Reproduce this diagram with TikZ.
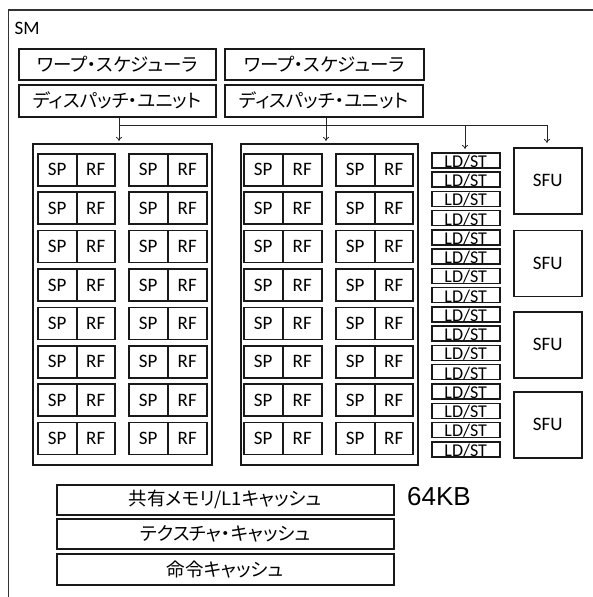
\documentclass[tikz,border=0pt]{standalone}
\usepackage{fontspec}
\setmainfont{Carlito}
\newfontfamily\jpfont[RawFeature=+palt]{Noto Sans CJK JP}
\newfontfamily\arialfont{Liberation Sans}
\usetikzlibrary{arrows.meta}
\begin{document}
\begin{tikzpicture}[x=1pt,y=-1pt,
  box/.style={draw=black!90, line width=1.5pt, inner sep=0pt, anchor=north west},
  jp/.style={font=\jpfont\fontsize{18.5}{20}\selectfont},
  cal/.style={font=\fontsize{19}{21}\selectfont},
  arr/.style={draw=black!85, line width=0.8pt, -{To[length=4pt,width=6pt]}, shorten >=2pt}]
\useasboundingbox (0,0) rectangle (593,597);
% outer frame (cropped)
\draw[draw=black!80, line width=1.7pt] (8.5,600) -- (8.5,10) -- (600,10);
\node[cal, anchor=base west, inner sep=0pt] (sm) at (14.5,34.5) {SM};
% warp schedulers and dispatch units
\node[box, jp, minimum width=197pt, minimum height=31pt] (w1) at (18,48) {ワープ・スケジューラ};
\node[box, jp, minimum width=199pt, minimum height=31pt] (w2) at (224,48) {ワープ・スケジューラ};
\node[box, jp, minimum width=197pt, minimum height=32pt] (d1) at (18,84) {ディスパッチ・ユニット};
\node[box, jp, minimum width=198pt, minimum height=32pt] (d2) at (224,84) {ディスパッチ・ユニット};
% clusters
\node[box, minimum width=179pt, minimum height=321pt] (c1) at (32,143) {};
\node[box, minimum width=177pt, minimum height=321pt] (c2) at (240,143) {};
% SP / RF cells
\foreach \c/\xa/\xb/\xc in {1/37/76/114, 2/128/167/206, 3/243/282/321, 4/335/374/412}{
  \foreach \r in {0,...,7}{
    \pgfmathsetmacro{\yy}{153+38.4*\r}
    \pgfmathsetmacro{\wa}{\xb-\xa}
    \pgfmathsetmacro{\wb}{\xc-\xb}
    \node[box, cal, minimum width=\wa pt, minimum height=32pt] (sp-\c-\r) at (\xa,\yy) {SP};
    \node[box, cal, minimum width=\wb pt, minimum height=32pt] (rf-\c-\r) at (\xb,\yy) {RF};
  }
}
% LD/ST units
\foreach \r in {0,...,15}{
  \pgfmathsetmacro{\yy}{152+19.27*\r}
  \node[box, minimum width=68pt, minimum height=15pt] (ld-\r) at (431,\yy) {};
  \node[font=\fontsize{18}{19}\selectfont, anchor=base, inner sep=0pt] at ([yshift=1.3pt]ld-\r.south) {LD/ST};
}
% SFUs
\foreach \r/\yy in {0/147, 1/229.5, 2/311, 3/391}{
  \node[box, cal, minimum width=68pt, minimum height=66pt] (sfu-\r) at (513,\yy) {SFU};
}
% caches
\node[box, jp, minimum width=337pt, minimum height=30pt] (smem) at (56,484) {共有メモリ/L1キャッシュ};
\node[box, jp, minimum width=337pt, minimum height=30pt] (tex) at (56,518) {テクスチャ・キャッシュ};
\node[box, jp, minimum width=337pt, minimum height=31pt] (ins) at (56,553) {命令キャッシュ};
\node[font=\arialfont\fontsize{26}{28}\selectfont, anchor=west, inner sep=0pt] (kb) at (407,497) {64KB};
% connectors
\coordinate (a1) at (119,125);
\coordinate (a2) at (326,125);
\coordinate (a3) at (465,125);
\coordinate (a4) at (547,125);
\draw[draw=black!85, line width=0.8pt] (a1) -- (a4);
\draw[arr] (d1.south -| a1) -- (c1.north -| a1);
\draw[arr] (d2.south -| a2) -- (c2.north -| a2);
\draw[arr, shorten >=3pt] (a3) -- (ld-0.north -| a3);
\draw[arr, shorten >=4pt] (a4) -- (sfu-0.north -| a4);
\end{tikzpicture}
\end{document}
